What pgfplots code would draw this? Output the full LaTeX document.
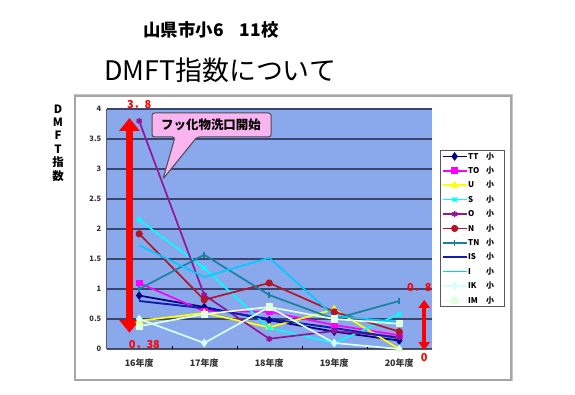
\documentclass[border=0pt]{standalone}
\usepackage{pgfplots}
\pgfplotsset{compat=1.18}
\usepackage{fontspec}
\setmainfont{Liberation Sans}
\newfontfamily\cjk{Noto Sans CJK JP}
\usetikzlibrary{arrows.meta}
\definecolor{plotbg}{RGB}{138,168,236}
\definecolor{gridc}{RGB}{58,70,112}
\definecolor{cTT}{RGB}{0,0,128}
\definecolor{cTO}{RGB}{255,0,255}
\definecolor{cU}{RGB}{255,255,0}
\definecolor{cS}{RGB}{0,255,255}
\definecolor{cO}{RGB}{150,20,150}
\definecolor{cN}{RGB}{180,20,40}
\definecolor{cTN}{RGB}{20,130,160}
\definecolor{cIS}{RGB}{20,30,170}
\definecolor{cI}{RGB}{0,204,255}
\definecolor{cIK}{RGB}{215,255,255}
\definecolor{cIM}{RGB}{225,255,225}
\definecolor{pinkc}{RGB}{250,180,240}
\newcommand\legitem[1]{\makebox[18bp][l]{#1}小\hspace*{8bp}}
\begin{document}
\begin{tikzpicture}
\path[use as bounding box, fill=white] (0,0) rectangle (575bp,395bp);
\draw[gray!45, line width=1bp] (74bp,14bp) rectangle (512bp,300bp);
\draw[gray!70, line width=1.5bp] (75bp,15bp) rectangle (511bp,299bp);
\node[font=\cjk\bfseries\fontsize{17.5}{19}\selectfont] at (211bp,365bp) {山県市小6\hspace{16bp}11校};
\node[font=\cjk\fontsize{27}{30}\selectfont] at (220bp,325bp) {DMFT指数について};
\node[font=\cjk\bfseries\fontsize{11.5}{13.5}\selectfont, align=center] at (58bp,252bp) {D\\M\\F\\T\\指\\数};
\begin{axis}[
 at={(106.7bp,46bp)}, anchor=south west,
 scale only axis, width=325bp, height=240bp,
 xmin=-0.5, xmax=4.5, ymin=0, ymax=4,
 xtick={0,1,2,3,4}, xticklabels={16年度,17年度,18年度,19年度,20年度},
 ytick={0,0.5,1,1.5,2,2.5,3,3.5,4},
 yticklabels={0,0.5,1,1.5,2,2.5,3,3.5,4},
 ymajorgrids, major grid style={draw=gridc, line width=1.5bp},
 axis background/.style={fill=plotbg},
 axis x line*=bottom, axis y line*=left,
 axis line style={draw=gray!70!black, line width=1bp},
 major tick length=0pt,
 minor xtick={0.5,1.5,2.5,3.5}, minor tick length=3bp, minor tick style={black},
 tick label style={font=\cjk\bfseries\fontsize{7.5}{8}\selectfont, text=black!80},
 xticklabel style={font=\cjk\bfseries\fontsize{9}{10}\selectfont, yshift=-6bp},
 yticklabel style={xshift=-2bp},
 clip=false,
 legend style={at={(rel axis cs:1.0255,0.829)}, anchor=north west,
   draw=gray!70!black, fill=white, font=\cjk\bfseries\fontsize{8}{8}\selectfont,
   inner sep=1.5bp, row sep=5bp,
   nodes={inner sep=0.6bp, text height=6.7bp, text depth=1.5bp}},
 legend cell align=left,
 legend image code/.code={\draw[mark repeat=2,mark phase=2] plot coordinates {(0bp,0bp) (12bp,0bp) (24bp,0bp)};},
]
\addplot[color=cTT, line width=1.7bp, mark=diamond*, mark size=3bp] coordinates {(0,0.89)(1,0.70)(2,0.48)(3,0.29)(4,0.14)};
\addlegendentry{\legitem{TT}}
\addplot[color=cTO, line width=1.7bp, mark=square*, mark size=2.5bp] coordinates {(0,1.10)(1,0.63)(2,0.62)(3,0.40)(4,0.23)};
\addlegendentry{\legitem{TO}}
\addplot[color=cU, line width=1.7bp, mark=triangle*, mark size=3bp] coordinates {(0,0.47)(1,0.60)(2,0.36)(3,0.66)(4,0.00)};
\addlegendentry{\legitem{U}}
\addplot[color=cS, line width=1.7bp, mark=x, mark size=3bp] coordinates {(0,2.15)(1,1.35)(2,0.35)(3,0.10)(4,0.58)};
\addlegendentry{\legitem{S}}
\addplot[color=cO, line width=1.7bp, mark=asterisk, mark size=3bp] coordinates {(0,3.80)(1,0.90)(2,0.17)(3,0.30)(4,0.20)};
\addlegendentry{\legitem{O}}
\addplot[color=cN, line width=1.7bp, mark=*, mark size=2.7bp] coordinates {(0,1.92)(1,0.82)(2,1.10)(3,0.62)(4,0.29)};
\addlegendentry{\legitem{N}}
\addplot[color=cTN, line width=1.7bp, mark=|, mark size=3bp] coordinates {(0,1.00)(1,1.57)(2,0.90)(3,0.50)(4,0.80)};
\addlegendentry{\legitem{TN}}
\addplot[color=cIS, line width=1.9bp] coordinates {(0,0.80)(1,0.68)(2,0.50)(3,0.35)(4,0.18)};
\addlegendentry{\legitem{IS}}
\addplot[color=cI, line width=1.7bp] coordinates {(0,1.73)(1,1.20)(2,1.52)(3,0.55)(4,0.45)};
\addlegendentry{\legitem{I}}
\addplot[color=cIK, line width=1.7bp, mark=diamond*, mark size=3bp] coordinates {(0,0.50)(1,0.10)(2,0.70)(3,0.10)(4,0.00)};
\addlegendentry{\legitem{IK}}
\addplot[color=cIM, line width=1.7bp, mark=square*, mark size=2.7bp] coordinates {(0,0.38)(1,0.58)(2,0.70)(3,0.50)(4,0.42)};
\addlegendentry{\legitem{IM}}
\draw[red, line width=7bp, arrows={Triangle[width=20bp,length=13bp]-Triangle[width=20bp,length=13bp]}]
  (axis cs:-0.15,0.27) -- (axis cs:-0.15,3.85);
\draw[red, line width=4bp, arrows={Triangle[width=11bp,length=8bp]-Triangle[width=11bp,length=8bp]}]
  (axis cs:4.385,-0.02) -- (axis cs:4.385,0.82);
\node[red, font=\cjk\bfseries\fontsize{11}{12}\selectfont] at (axis cs:0,4.08) {3．8};
\node[red, font=\cjk\bfseries\fontsize{11}{12}\selectfont] at (axis cs:0.08,0.07) {0．38};
\node[red, font=\cjk\bfseries\fontsize{11}{12}\selectfont] at (axis cs:4.31,1.02) {0．8};
\node[red, font=\cjk\bfseries\fontsize{11}{12}\selectfont] at (axis cs:4.385,-0.15) {0};
\end{axis}
\draw[fill=pinkc, draw=gray!60!black, line width=1bp, rounded corners=2.5bp]
  (152bp,282bp) -- (271bp,282bp) -- (271bp,258bp) -- (197bp,258bp) -- (163bp,216bp) -- (175bp,258bp) -- (152bp,258bp) -- cycle;
\node[font=\cjk\bfseries\fontsize{12.5}{14}\selectfont] at (211bp,270bp) {フッ化物洗口開始};
\end{tikzpicture}
\end{document}
